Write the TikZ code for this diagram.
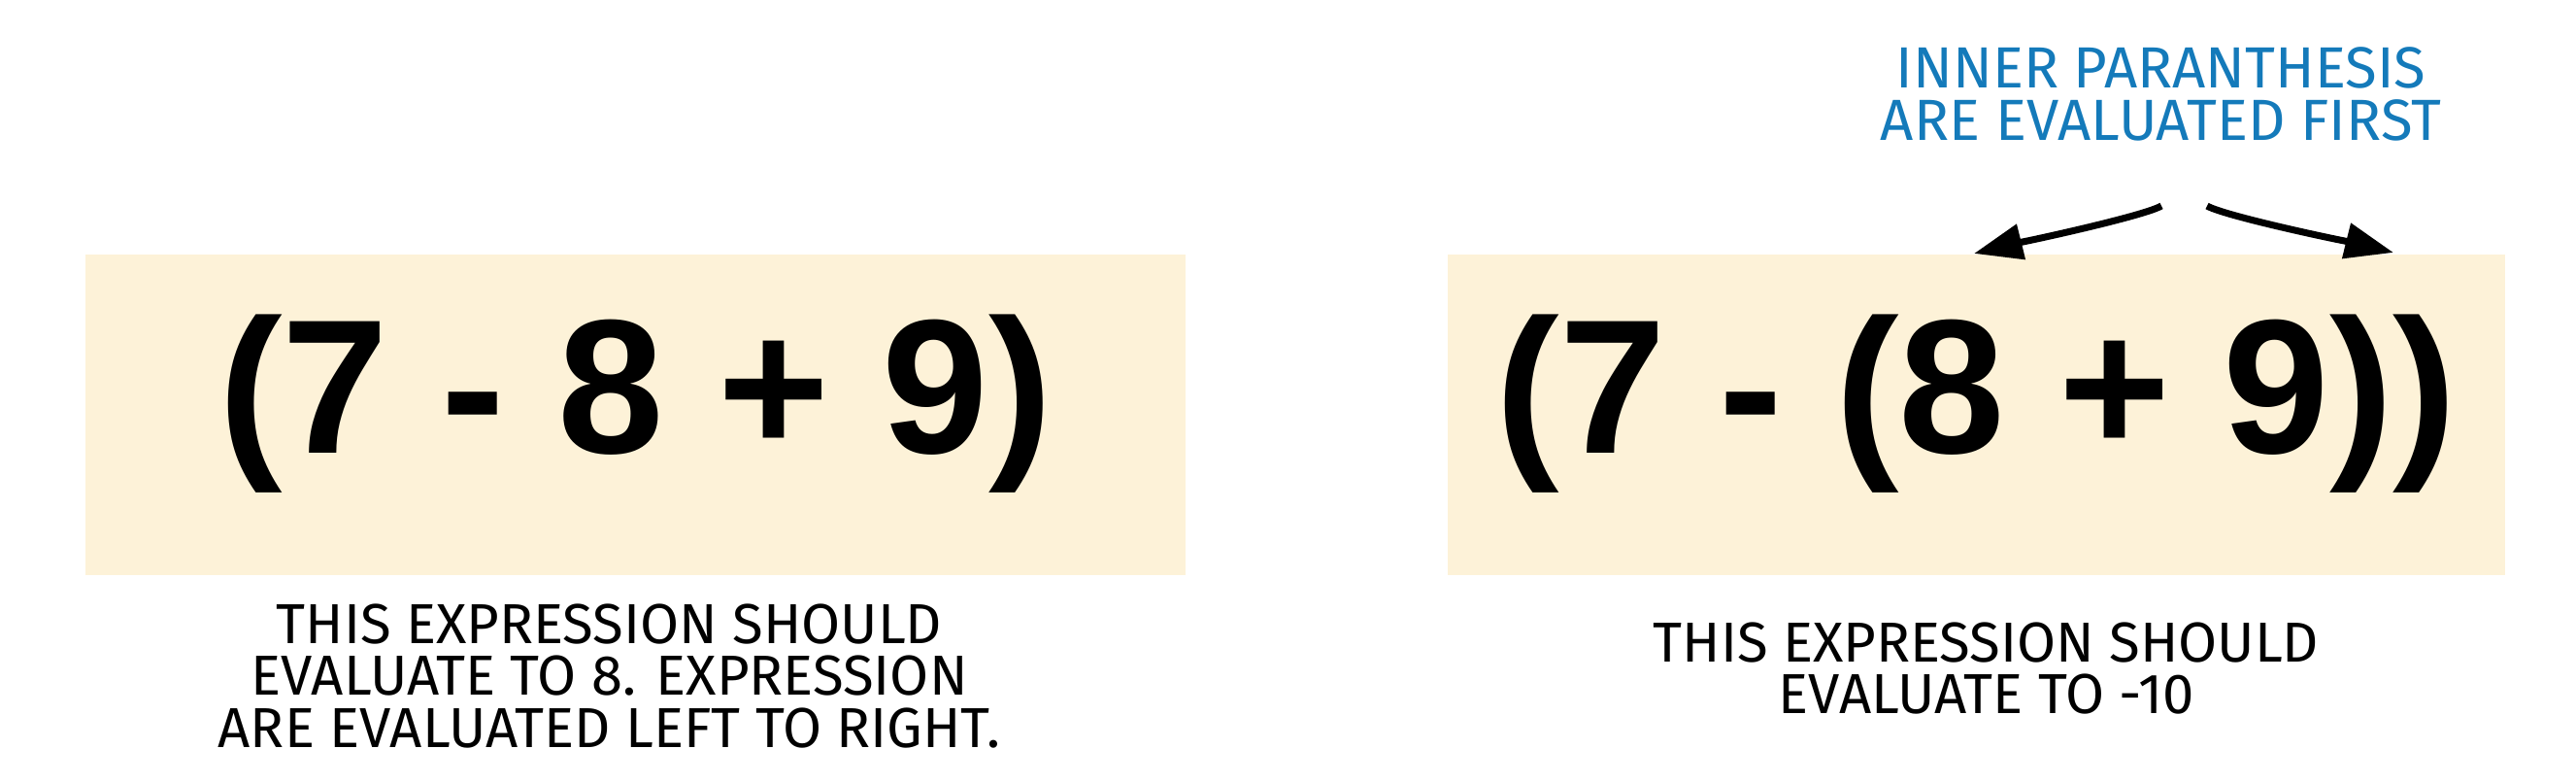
\documentclass[tikz,border=0pt]{standalone}
\usepackage{fontspec}
\usetikzlibrary{positioning,arrows.meta}
\newfontfamily\exprfont{Liberation Sans}
\newfontfamily\notefont{Fira Sans}
\definecolor{cream}{RGB}{253,242,216}
\definecolor{noteblue}{RGB}{20,122,186}
\tikzset{
  exprbox/.style={
    rectangle,
    fill=cream,
    minimum height=33mm,
    text height=14mm,
    text depth=6mm,
    font=\exprfont\bfseries\fontsize{56}{60}\selectfont},
  caption/.style={
    align=center,
    inner sep=0pt,
    font=\notefont\fontsize{16.5}{15.3}\selectfont},
  pointer/.style={
    -{Triangle[length=5mm,width=3.6mm]},
    line width=2pt}
}
\begin{document}
\begin{tikzpicture}
  \useasboundingbox (0,0) rectangle (26.53,8.06);

  \node[exprbox, minimum width=113.3mm] (exprA) at (6.545,3.79) {(7 - 8 + 9)};
  \node[exprbox, minimum width=108.9mm] (exprB) at (20.355,3.79) {(7 - (8 + 9))};

  \node[caption, below of=exprA, yshift=-16.9mm, xshift=-2.7mm] (capA)
    {THIS EXPRESSION SHOULD\\EVALUATE TO 8. EXPRESSION\\ARE EVALUATED LEFT TO RIGHT.};
  \node[caption, below of=exprB, yshift=-16.1mm, xshift=1mm] (capB)
    {THIS EXPRESSION SHOULD\\EVALUATE TO -10};

  \node[
  caption,
  text=noteblue,
  font=\notefont\fontsize{17}{15.6}\selectfont,
  above of=exprB,
  yshift=23mm,
  xshift=19mm] (note) {INNER PARANTHESIS\\ARE EVALUATED FIRST};

  % arrow ends
  \coordinate (srcL) at (22.26,5.94);
  \coordinate (srcR) at (22.73,5.94);
  \coordinate (tipL) at (20.33,5.45);
  \coordinate (tipR) at (24.65,5.46);

  \draw[pointer] (srcL) to[out=-150,in=14,looseness=0.3] (tipL);
  \draw[pointer] (srcR) to[out=-30,in=166,looseness=0.3] (tipR);
\end{tikzpicture}
\end{document}
